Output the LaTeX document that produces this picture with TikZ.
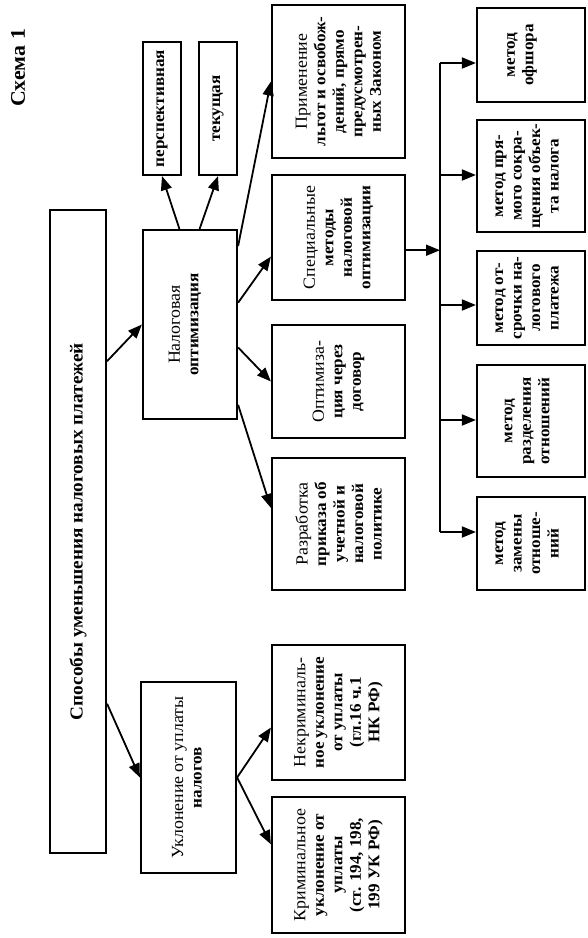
\documentclass[tikz,border=0pt]{standalone}
\usepackage{fontspec}
\setmainfont{Liberation Serif}[FakeStretch=1.05]
\usetikzlibrary{arrows.meta,calc}
\newcommand\fwd[1]{{\mdseries\fontsize{17}{18.5}\selectfont #1}}
\begin{document}
\begin{tikzpicture}[x=1pt,y=-1pt,
  box/.style={draw, line width=2.2pt, inner sep=0pt},
  txt/.style={rotate=90, align=center, inner sep=0pt, font=\bfseries\fontsize{16.3}{18.5}\selectfont},
  arr/.style={line width=1.8pt, -{Triangle[length=14pt,width=11pt]}},
  bus/.style={line width=2pt}]
\useasboundingbox (0,0) rectangle (587,938);
% boxes
\node[box, minimum width=56pt, minimum height=643pt] (main) at (78,531.5) {};
\node[box, minimum width=94pt, minimum height=189pt] (nal) at (190,324.5) {};
\node[box, minimum width=38pt, minimum height=133pt] (persp) at (162,108.5) {};
\node[box, minimum width=38pt, minimum height=133pt] (tek) at (218,108.5) {};
\node[box, minimum width=133pt, minimum height=153pt] (prim) at (338.5,81.5) {};
\node[box, minimum width=133pt, minimum height=125pt] (spec) at (338.5,237.5) {};
\node[box, minimum width=133pt, minimum height=113pt] (dog) at (338.5,381.5) {};
\node[box, minimum width=133pt, minimum height=132pt] (razr) at (338.5,524) {};
\node[box, minimum width=133pt, minimum height=135pt] (nekr) at (338.5,712.5) {};
\node[box, minimum width=133pt, minimum height=136pt] (krim) at (338.5,865) {};
\node[box, minimum width=95pt, minimum height=191pt] (ukl) at (188.5,777.5) {};
\node[box, minimum width=108pt, minimum height=94pt] (offsh) at (531,55) {};
\node[box, minimum width=108pt, minimum height=112pt] (pryam) at (531,176) {};
\node[box, minimum width=108pt, minimum height=94pt] (otsr) at (531,298) {};
\node[box, minimum width=108pt, minimum height=112pt] (razd) at (531,421) {};
\node[box, minimum width=108pt, minimum height=93pt] (zam) at (531,543.5) {};
% texts
\node[txt, font=\bfseries\fontsize{20.8}{18}\selectfont] (title) at (18,68) {Схема 1};
\node[txt, font=\bfseries\fontsize{18.3}{18}\selectfont] (tmain) at (main) {Способы уменьшения налоговых платежей};
\node[txt] (tnal) at (185,324.5) {\fwd{Налоговая}\\оптимизация};
\node[txt] (tpersp) at (persp) {перспективная};
\node[txt] (ttek) at (tek) {текущая};
\node[txt] (tprim) at (prim) {\fwd{Применение}\\льгот и освобож-\\дений, прямо\\предусмотрен-\\ных Законом};
\node[txt] (tspec) at (spec) {\fwd{Специальные}\\методы\\налоговой\\оптимизации};
\node[txt] (tdog) at (dog) {\fwd{Оптимиза-}\\ция через\\договор};
\node[txt] (trazr) at (razr) {\fwd{Разработка}\\приказа об\\учетной и\\налоговой\\политике};
\node[txt] (tnekr) at (nekr) {\fwd{Некриминаль-}\\ное уклонение\\от уплаты\\(гл.16 ч.1\\НК РФ)};
\node[txt] (tkrim) at (krim) {\fwd{Криминальное}\\уклонение от\\уплаты\\(ст. 194, 198,\\199 УК РФ)};
\node[txt] (tukl) at (187,777.5) {\fwd{Уклонение от уплаты}\\налогов};
\node[txt] (toffsh) at (522,55) {метод\\офшора};
\node[txt] (tpryam) at (527,176) {метод пря-\\мого сокра-\\щения объек-\\та налога};
\node[txt] (totsr) at (527,298) {метод от-\\срочки на-\\логового\\платежа};
\node[txt] (trazd) at (527,421) {метод\\разделения\\отношений};
\node[txt] (tzam) at (527,543.5) {метод\\замены\\отноше-\\ний};
% connectors
\draw[arr] ($(main.north east)!0.236!(main.south east)$) -- (nal.west);
\draw[arr] ($(main.north east)!0.767!(main.south east)$) -- (ukl.west);
\draw[arr] ($(nal.north west)!0.39!(nal.north east)$) -- (persp.south);
\draw[arr] ($(nal.north west)!0.6!(nal.north east)$) -- (tek.south);
\draw[arr] ($(nal.north east)!0.09!(nal.south east)$) -- (prim.west);
\draw[arr] ($(nal.north east)!0.386!(nal.south east)$) -- ($(spec.north west)!0.65!(spec.south west)$);
\draw[arr] ($(nal.north east)!0.62!(nal.south east)$) -- (dog.west);
\draw[arr] ($(nal.north east)!0.92!(nal.south east)$) -- ($(razr.north west)!0.38!(razr.south west)$);
\draw[arr] (ukl.east) -- ($(nekr.north west)!0.61!(nekr.south west)$);
\draw[arr] (ukl.east) -- ($(krim.north west)!0.35!(krim.south west)$);
% bus
\coordinate (b1) at (440,63);
\coordinate (b2) at (440,175);
\coordinate (b3) at (440,305);
\coordinate (b4) at (440,420);
\coordinate (b5) at (440,532);
\draw[bus] (b1) -- (b5);
\coordinate (sj) at ($(spec.north east)!0.6!(spec.south east)$);
\draw[arr] (sj) -- (sj -| b1);
\draw[arr] (b1) -- (b1 -| offsh.west);
\draw[arr] (b2) -- (b2 -| pryam.west);
\draw[arr] (b3) -- (b3 -| otsr.west);
\draw[arr] (b4) -- (b4 -| razd.west);
\draw[arr] (b5) -- (b5 -| zam.west);
\end{tikzpicture}
\end{document}
